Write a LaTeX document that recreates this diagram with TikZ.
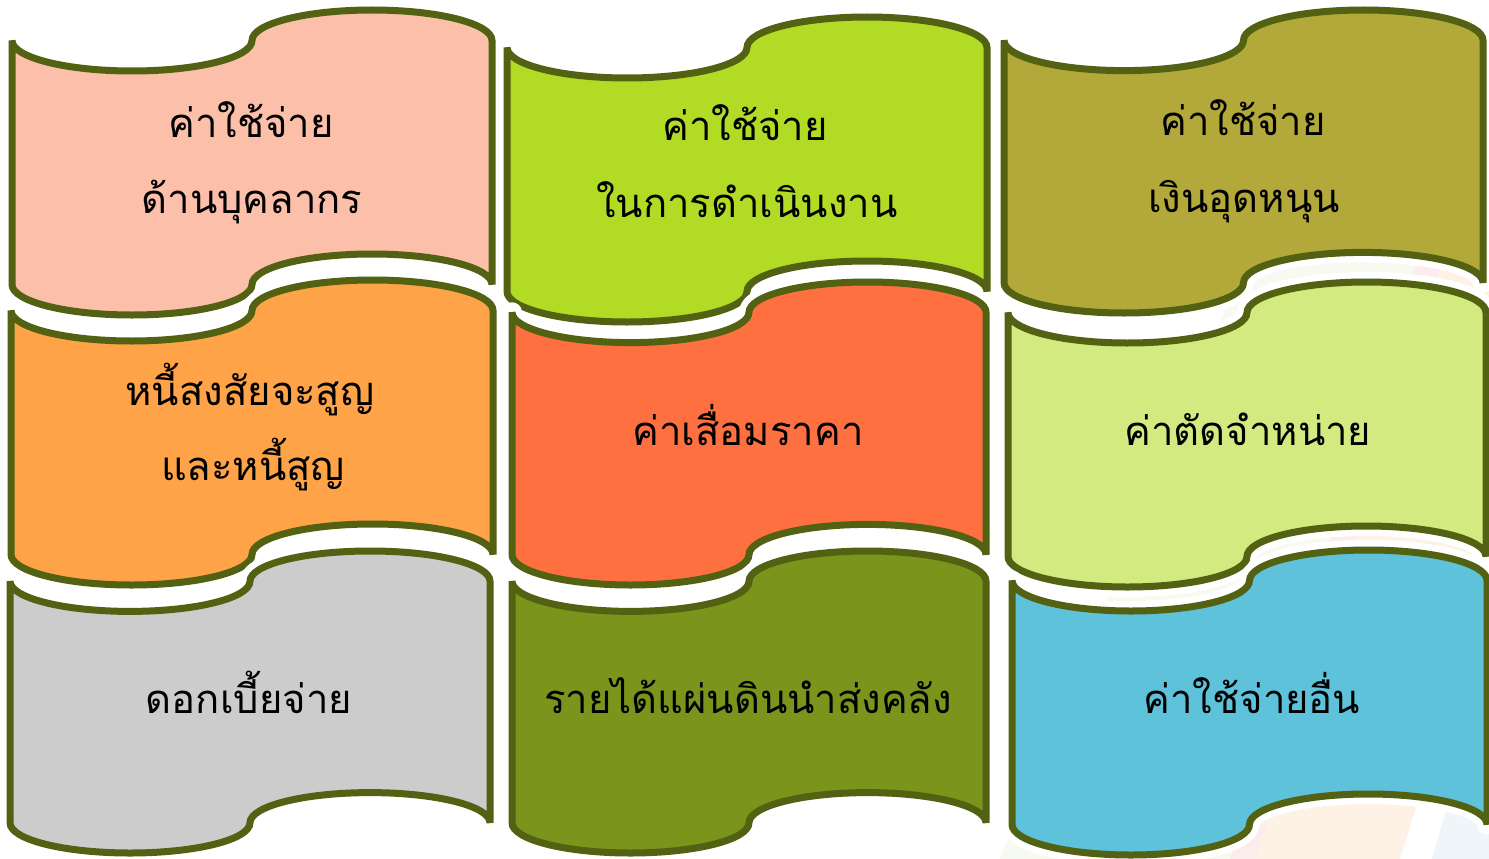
\documentclass[tikz,border=0pt]{standalone}
\usepackage{fontspec}
\newfontfamily\thaifont[Script=Thai]{Loma}
\definecolor{edgegreen}{RGB}{82,98,18}
\definecolor{cpink}{RGB}{252,192,170}
\definecolor{clime}{RGB}{178,219,38}
\definecolor{colive}{RGB}{179,169,58}
\definecolor{corange}{RGB}{254,163,71}
\definecolor{cred}{RGB}{255,112,64}
\definecolor{clight}{RGB}{211,234,128}
\definecolor{cgrey}{RGB}{204,204,204}
\definecolor{cmoss}{RGB}{122,148,28}
\definecolor{cblue}{RGB}{93,194,218}
\definecolor{bgA}{RGB}{247,250,240}
\definecolor{bgB}{RGB}{253,236,236}
\definecolor{bgC}{RGB}{254,242,230}
\definecolor{bgD}{RGB}{238,246,249}
\newcommand{\tapepath}{%
  (\tL,\tT+\ta)
  .. controls (\tL,\tT+\ta+\ka) and (\tL+\tr-\kr,\tT+2*\ta) .. (\tL+\tr,\tT+2*\ta)
  .. controls (\tL+\tr+\kr,\tT+2*\ta) and (\tL+2*\tr,\tT+\ta+\ka) .. (\tL+2*\tr,\tT+\ta)
  .. controls (\tL+2*\tr,\tT+\ta-\ka) and (\tL+3*\tr-\kr,\tT) .. (\tL+3*\tr,\tT)
  .. controls (\tL+3*\tr+\kr,\tT) and (\tR,\tT+\ta-\ka) .. (\tR,\tT+\ta)
  -- (\tR,\tB-\ta)
  .. controls (\tR,\tB-\ta-\ka) and (\tL+3*\tr+\kr,\tB-2*\ta) .. (\tL+3*\tr,\tB-2*\ta)
  .. controls (\tL+3*\tr-\kr,\tB-2*\ta) and (\tL+2*\tr,\tB-\ta-\ka) .. (\tL+2*\tr,\tB-\ta)
  .. controls (\tL+2*\tr,\tB-\ta+\ka) and (\tL+\tr+\kr,\tB) .. (\tL+\tr,\tB)
  .. controls (\tL+\tr-\kr,\tB) and (\tL,\tB-\ta+\ka) .. (\tL,\tB-\ta)
  -- cycle}
\newcommand{\tapeshape}[5]{%
  \pgfmathsetmacro{\tL}{#1}\pgfmathsetmacro{\tR}{#2}%
  \pgfmathsetmacro{\tT}{#3}\pgfmathsetmacro{\tB}{#4}%
  \pgfmathsetmacro{\ta}{(\tB-\tT)/10}\pgfmathsetmacro{\tr}{(\tR-\tL)/4}%
  \pgfmathsetmacro{\ka}{0.5523*\ta}\pgfmathsetmacro{\kr}{0.5523*\tr}%
  \draw[halo] \tapepath;
  \draw[tape,fill=#5] \tapepath;}
\begin{document}
\begin{tikzpicture}[x=1pt,y=-1pt,
  tape/.style={draw=edgegreen,line width=7pt,line join=miter},
  halo/.style={draw=white,line width=20pt,line join=round},
  label/.style={anchor=base,inner sep=0pt,text=black,font=\thaifont\fontsize{40}{48}\selectfont}]
\useasboundingbox (0,0) rectangle (1489,859);
\fill[white] (0,0) rectangle (1489,859);
% faint background stripes
\fill[bgA] (1000,859) -- (1230,859) -- (1420,250) -- (1250,250) -- cycle;
\fill[bgB] (1230,859) -- (1256,859) -- (1446,250) -- (1420,250) -- cycle;
\fill[bgC] (1256,859) -- (1400,859) -- (1590,250) -- (1446,250) -- cycle;
\fill[bgD] (1432,859) -- (1489,859) -- (1489,660) -- cycle;
% shapes
\tapeshape{12}{492}{10}{315}{cpink}
\tapeshape{507}{987}{17}{322}{clime}
\tapeshape{1004}{1483}{10}{313}{colive}
\tapeshape{11}{493}{280}{585}{corange}
\tapeshape{512}{986}{282}{585}{cred}
\tapeshape{1008}{1486}{282}{587}{clight}
\tapeshape{10}{490}{551}{853}{cgrey}
\tapeshape{512}{986}{551}{853}{cmoss}
\tapeshape{1012}{1487}{550}{855}{cblue}
% texts
\node[label] (t1a) at (251,137) {ค่าใช้จ่าย};
\node[label] (t1b) at (252,213) {ด้านบุคลากร};
\node[label] (t2a) at (745,140) {ค่าใช้จ่าย};
\node[label] (t2b) at (747,217) {ในการดำเนินงาน};
\node[label] (t3a) at (1243,135) {ค่าใช้จ่าย};
\node[label] (t3b) at (1244,212) {เงินอุดหนุน};
\node[label] (t4a) at (250,405) {หนี้สงสัยจะสูญ};
\node[label] (t4b) at (253,480) {และหนี้สูญ};
\node[label] (t5) at (748,445) {ค่าเสื่อมราคา};
\node[label] (t6) at (1248,445) {ค่าตัดจำหน่าย};
\node[label] (t7) at (249,713) {ดอกเบี้ยจ่าย};
\node[label] (t8) at (748,713) {รายได้แผ่นดินนำส่งคลัง};
\node[label] (t9) at (1252,713) {ค่าใช้จ่ายอื่น};
\end{tikzpicture}
\end{document}
